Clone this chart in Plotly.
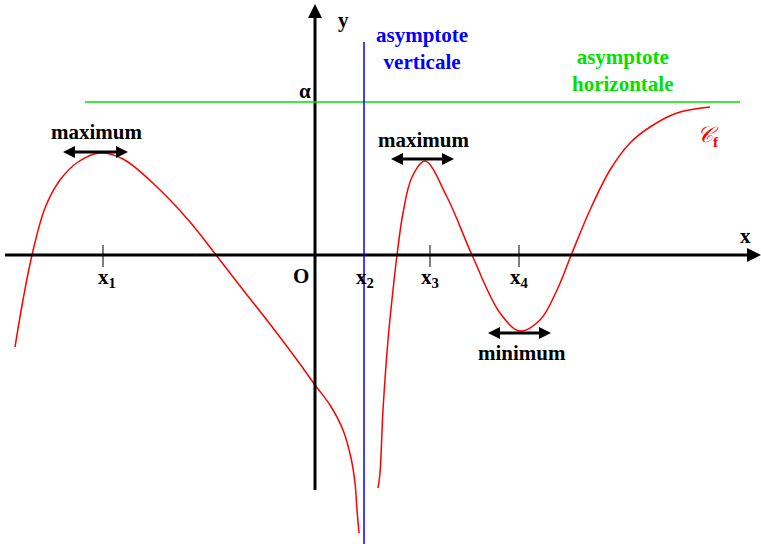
import plotly.graph_objects as go

# curve branches (drawing units: x to the right, y downwards like the picture)
left_x = [15, 23, 32, 45, 60, 78, 100, 123, 157, 190, 216, 240, 273, 300, 315, 330, 343, 351, 355, 357, 359]
left_y = [347, 300, 255, 208, 180, 162, 153, 159, 187, 222, 255, 286, 328, 364, 385, 405, 430, 458, 483, 510, 533]
right_x = [378, 380, 383, 388, 393, 397, 403, 412, 425, 447, 472, 500, 520, 540, 557, 572, 590, 610, 630, 650, 677, 710]
right_y = [488, 473, 410, 340, 290, 255, 213, 177, 161, 197, 255, 313, 331, 320, 290, 253, 210, 170, 143, 127, 113, 107]

# axes and asymptotes
x_axis_y = 255
y_axis_x = 315
asym_h_y = 102
asym_v_x = 364

# tick positions on the x axis and their labels
tick_x = [103, 430, 519]
tick_labels = [(107, "x<sub>1</sub>"), (365, "x<sub>2</sub>"), (430, "x<sub>3</sub>"), (519, "x<sub>4</sub>")]

# extremum markers: (label, label x, label y, arrow from, arrow to, arrow y)
extrema = [
    ("maximum", 97, 132, 63, 128, 152),
    ("maximum", 424, 140, 391, 454, 159),
    ("minimum", 522, 353, 488, 551, 333),
]

W, H = 761, 544
serif = "Liberation Serif, Times New Roman, serif"

fig = go.Figure()
for bx, by in [(left_x, left_y), (right_x, right_y)]:
    fig.add_trace(go.Scatter(x=bx, y=by, mode="lines", hoverinfo="skip",
                             line=dict(color="red", width=1.5, shape="spline", smoothing=1)))

shapes = []
# x axis + arrowhead
shapes.append(dict(type="line", x0=5, x1=750, y0=x_axis_y, y1=x_axis_y, line=dict(color="black", width=3)))
shapes.append(dict(type="path", path=f"M 747 {x_axis_y-7} L 761 {x_axis_y} L 747 {x_axis_y+7} Z", fillcolor="black", line=dict(width=0)))
# y axis + arrowhead
shapes.append(dict(type="line", x0=y_axis_x, x1=y_axis_x, y0=490, y1=16, line=dict(color="black", width=3)))
shapes.append(dict(type="path", path=f"M {y_axis_x-7} 18 L {y_axis_x} 4 L {y_axis_x+7} 18 Z", fillcolor="black", line=dict(width=0)))
# asymptotes
shapes.append(dict(type="line", x0=85, x1=740, y0=asym_h_y, y1=asym_h_y, line=dict(color="#00e000", width=1.5)))
shapes.append(dict(type="line", x0=asym_v_x, x1=asym_v_x, y0=42, y1=544, line=dict(color="blue", width=1.5)))
# ticks
for tx in tick_x:
    shapes.append(dict(type="line", x0=tx, x1=tx, y0=245, y1=267, line=dict(color="black", width=1)))
# double arrows at the extrema
for lab, lx, ly, a0, a1, ay in extrema:
    shapes.append(dict(type="line", x0=a0 + 8, x1=a1 - 8, y0=ay, y1=ay, line=dict(color="black", width=3)))
    shapes.append(dict(type="path", path=f"M {a0+12} {ay-6} L {a0} {ay} L {a0+12} {ay+6} Z", fillcolor="black", line=dict(width=0)))
    shapes.append(dict(type="path", path=f"M {a1-12} {ay-6} L {a1} {ay} L {a1-12} {ay+6} Z", fillcolor="black", line=dict(width=0)))

ann = []
def txt(x, y, s, color="black", size=21):
    ann.append(dict(x=x, y=y, text=s, showarrow=False, xref="x", yref="y",
                    font=dict(family=serif, size=size, color=color), xanchor="center", yanchor="middle"))

txt(343, 20, "<b>y</b>")
txt(745, 236, "<b>x</b>")
txt(305, 91, "<b>α</b>")
txt(301, 276, "<b>O</b>")
for lx, lab in tick_labels:
    txt(lx, 278, "<b>" + lab + "</b>")
txt(422, 48, "<b>asymptote<br>verticale</b>", color="blue", size=21)
txt(622, 70, "<b>asymptote<br>horizontale</b>", color="#00e000", size=21)
txt(708, 136, "<i>𝒞</i><b><sub>f</sub></b>", color="red", size=22)
for lab, lx, ly, a0, a1, ay in extrema:
    txt(lx, ly, "<b>" + lab + "</b>")

fig.update_layout(
    width=W, height=H, margin=dict(l=0, r=0, t=0, b=0),
    paper_bgcolor="white", plot_bgcolor="white", showlegend=False,
    xaxis=dict(range=[0, W], visible=False, fixedrange=True),
    yaxis=dict(range=[H, 0], visible=False, fixedrange=True),
    shapes=shapes, annotations=ann,
)
fig.write_html("out.html", config={"displayModeBar": False},
               post_script="document.body.style.margin='0';")
